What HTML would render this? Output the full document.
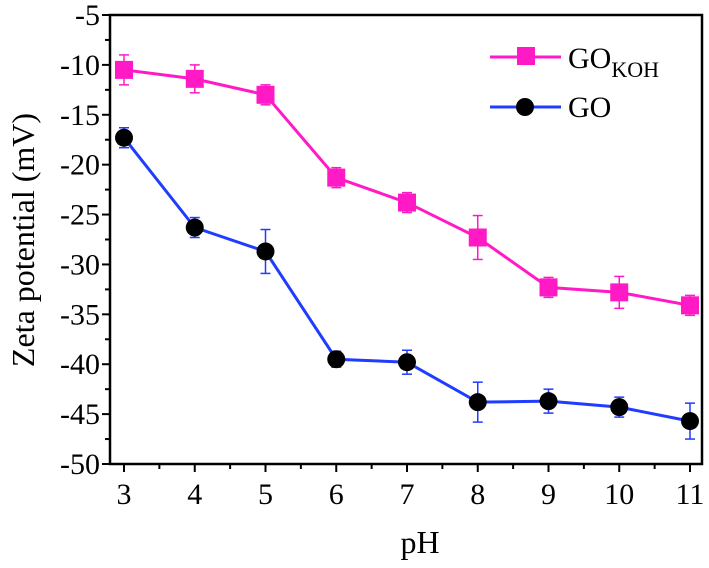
<!DOCTYPE html>
<html><head><meta charset="utf-8"><style>
body{margin:0;background:#fff}
svg,svg text{font-family:"Liberation Serif","Times New Roman",serif;fill:#000}
</style></head><body>
<svg id="chart" width="709" height="563" font-family="Liberation Serif, serif">
<g id="axes"></g><g id="series"></g>
<text x="420" y="553" font-size="32" text-anchor="middle">pH</text>
<text transform="translate(34,240) rotate(-90)" font-size="32" text-anchor="middle">Zeta potential (mV)</text>
<g>
<line x1="490" y1="57" x2="561" y2="57" stroke="#ff1ac6" stroke-width="3"/>
<rect x="517" y="47" width="18" height="18" fill="#ff1ac6"/>
<text x="568" y="68" font-size="30">GO<tspan font-size="22" dy="9">KOH</tspan></text>
<line x1="490" y1="107" x2="561" y2="107" stroke="#1f3cff" stroke-width="3"/>
<circle cx="525" cy="107" r="9" fill="#000"/>
<text x="568" y="117" font-size="30">GO</text>
</g>
</svg>
<script>
const phValues=[3,4,5,6,7,8,9,10,11];
const gokohValues=[-10.5,-11.4,-13,-21.3,-23.8,-27.3,-32.3,-32.8,-34.1];
const gokohErr=[1.5,1.4,1.0,1.0,1.0,2.2,1.0,1.6,1.0];
const goValues=[-17.3,-26.3,-28.7,-39.5,-39.8,-43.8,-43.7,-44.3,-45.7];
const goErr=[1.0,1.0,2.2,0.8,1.2,2.0,1.2,1.0,1.8];
const yTicks=[-5,-10,-15,-20,-25,-30,-35,-40,-45,-50];
const xTicks=[3,4,5,6,7,8,9,10,11];
const NS="http://www.w3.org/2000/svg";
const L=110,R=702,T=15,B=464;
const xs=v=>124+(v-3)*70.75;
const ys=v=>T+(-5-v)*(B-T)/45;
function mk(tag,at,parent){const e=document.createElementNS(NS,tag);for(const k in at)e.setAttribute(k,at[k]);parent.appendChild(e);return e;}
const ax=document.getElementById('axes');
const fr=mk('rect',{x:L,y:T,width:R-L,height:B-T,fill:'none',stroke:'#000','stroke-width':2.5},ax);


yTicks.forEach(v=>{
 const y=ys(v);
 mk('line',{x1:L-8,x2:L,y1:y,y2:y,stroke:'#000','stroke-width':2},ax);
 if(v>-50)mk('line',{x1:L-5,x2:L,y1:ys(v-2.5),y2:ys(v-2.5),stroke:'#000','stroke-width':2},ax);
 const t=mk('text',{x:L-10,y:y+10,'font-size':30,'text-anchor':'end'},ax);t.textContent=v;
 
 
});
xTicks.forEach(v=>{
 const x=xs(v);
 mk('line',{x1:x,x2:x,y1:B,y2:B+8,stroke:'#000','stroke-width':2},ax);
 if(v<11)mk('line',{x1:xs(v+0.5),x2:xs(v+0.5),y1:B,y2:B+5,stroke:'#000','stroke-width':2},ax);
 const t=mk('text',{x:x,y:B+40,'font-size':30,'text-anchor':'middle'},ax);t.textContent=v;
 
 
});
const sg=document.getElementById('series');
function series(vals,err,color,shape,name){
 const g=mk('g',{},sg);
 
 
 mk('polyline',{points:vals.map((v,i)=>xs(phValues[i])+','+ys(v)).join(' '),fill:'none',stroke:color,'stroke-width':3},g);
 vals.forEach((v,i)=>{
  const x=xs(phValues[i]),y1=ys(v+err[i]),y2=ys(v-err[i]);
  mk('line',{x1:x,x2:x,y1:y1,y2:y2,stroke:color,'stroke-width':1.5},g);
  mk('line',{x1:x-5,x2:x+5,y1:y1,y2:y1,stroke:color,'stroke-width':1.5},g);
  mk('line',{x1:x-5,x2:x+5,y1:y2,y2:y2,stroke:color,'stroke-width':1.5},g);
  let m;
  if(shape==='sq')m=mk('rect',{x:x-9,y:ys(v)-9,width:18,height:18,fill:color},g);
  else m=mk('circle',{cx:x,cy:ys(v),r:9,fill:'#000'},g);
  
  
 });
}
series(goValues,goErr,'#1f3cff','ci','go');
series(gokohValues,gokohErr,'#ff1ac6','sq','gokoh');
</script>
</body></html>
